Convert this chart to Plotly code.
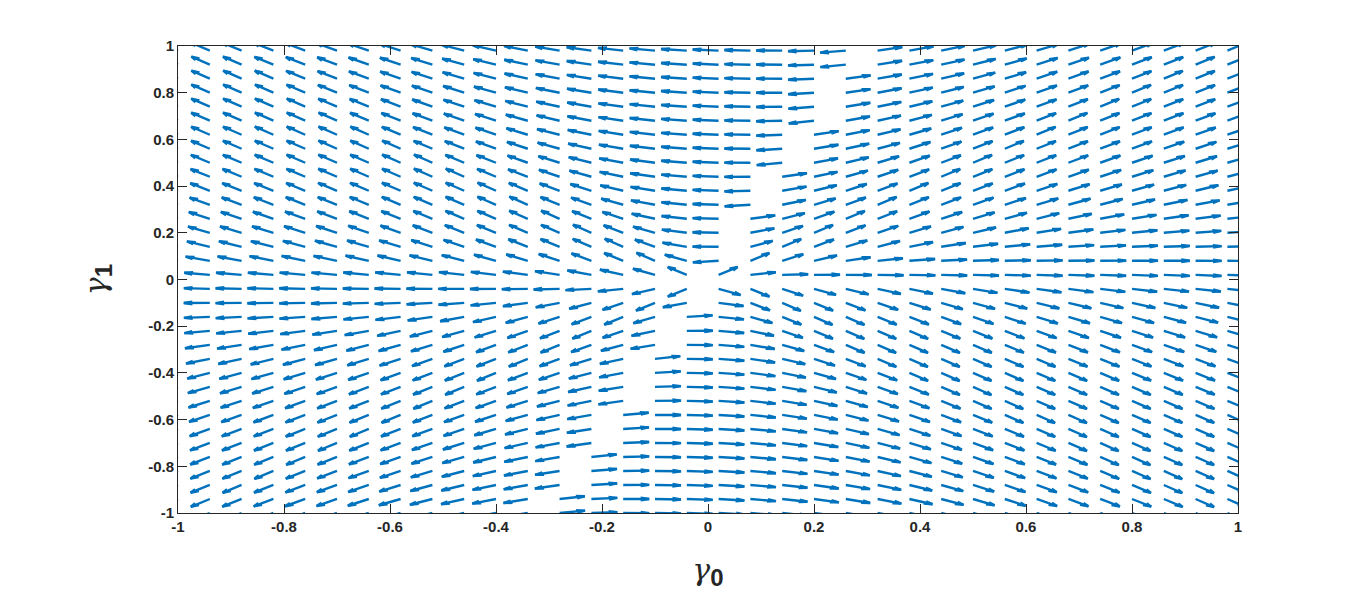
import numpy as np
import plotly.graph_objects as go

# Grid of arrow tails (gamma0, gamma1)
gamma0_grid = [round(-1 + 0.06 * k, 2) for k in range(34)]
gamma1_grid = [round(-1 + 0.06 * k, 2) for k in range(34)]

# Dividing line gamma0 = slope * gamma1 where the arrows flip direction
boundary_slope = 0.30

# Arrow direction (deg) read from the picture as a function of the polar angle
# of the tail point, on the side gamma0 - slope*gamma1 > 0 (field is point-symmetric)
polar_deg = [-106.5, -103, -100, -94, -88, -80, -70, -60, -45, -30, -21, -12, -6,
             -2, 2, 5, 9, 17, 23, 35, 45, 55, 62, 69, 73.2]
arrow_deg = [14, 5, 0, -3.5, -8, -15, -25, -36, -45, -44, -41, -33, -25,
             -12, -4, 0, 4, 18, 30, 40, 43, 37, 29, 22, 17]

arrow_len = 0.049
head_alpha = 0.33
head_beta = 0.33

xs, ys = [], []
for gy in gamma1_grid:
    for gx in gamma0_grid:
        side = 1 if gx - boundary_slope * gy > 0 else -1
        px, py = side * gx, side * gy
        phi = np.degrees(np.arctan2(py, px))
        th = np.interp(phi, polar_deg, arrow_deg)
        if side < 0:
            th += 180
        u = arrow_len * np.cos(np.radians(th))
        v = arrow_len * np.sin(np.radians(th))
        tx, ty = gx + u, gy + v
        xs += [gx, tx, None]
        ys += [gy, ty, None]
        b1x = tx - head_alpha * (u + head_beta * v)
        b1y = ty - head_alpha * (v - head_beta * u)
        b2x = tx - head_alpha * (u - head_beta * v)
        b2y = ty - head_alpha * (v + head_beta * u)
        xs += [b1x, tx, b2x, None]
        ys += [b1y, ty, b2y, None]

fig = go.Figure()
fig.add_trace(go.Scatter(x=xs, y=ys, mode="lines",
                         line=dict(color="#0072BD", width=2.4),
                         hoverinfo="skip", showlegend=False))

tickvals = [round(-1 + 0.2 * k, 1) for k in range(11)]
ticktext = ["-1", "-0.8", "-0.6", "-0.4", "-0.2", "0", "0.2", "0.4", "0.6", "0.8", "1"]

axis_common = dict(
    range=[-1, 1], tickvals=tickvals, ticktext=ticktext,
    showline=True, linecolor="#262626", linewidth=1, mirror="allticks",
    ticks="inside", ticklen=9, tickcolor="#262626",
    showgrid=False, zeroline=False, automargin=False,
    tickfont=dict(family="Liberation Sans", size=15, color="#262626", weight="bold"),
)

sub_style = "font-family:Liberation Sans;font-weight:bold;font-size:24px"
title_font = dict(family="DejaVu Serif", size=30, color="#262626")

fig.update_layout(
    width=1366, height=600,
    margin=dict(l=170, r=136, t=38, b=95),
    paper_bgcolor="white", plot_bgcolor="white",
    xaxis=dict(**axis_common,
               title=dict(text=f"<i>γ</i><sub><span style='{sub_style}'>0</span></sub>",
                          standoff=24, font=title_font)),
    yaxis=dict(**axis_common,
               title=dict(text=f"<i>γ</i><sub><span style='{sub_style}'>1</span></sub>",
                          standoff=32, font=title_font)),
)

fig.write_html("out.html")
